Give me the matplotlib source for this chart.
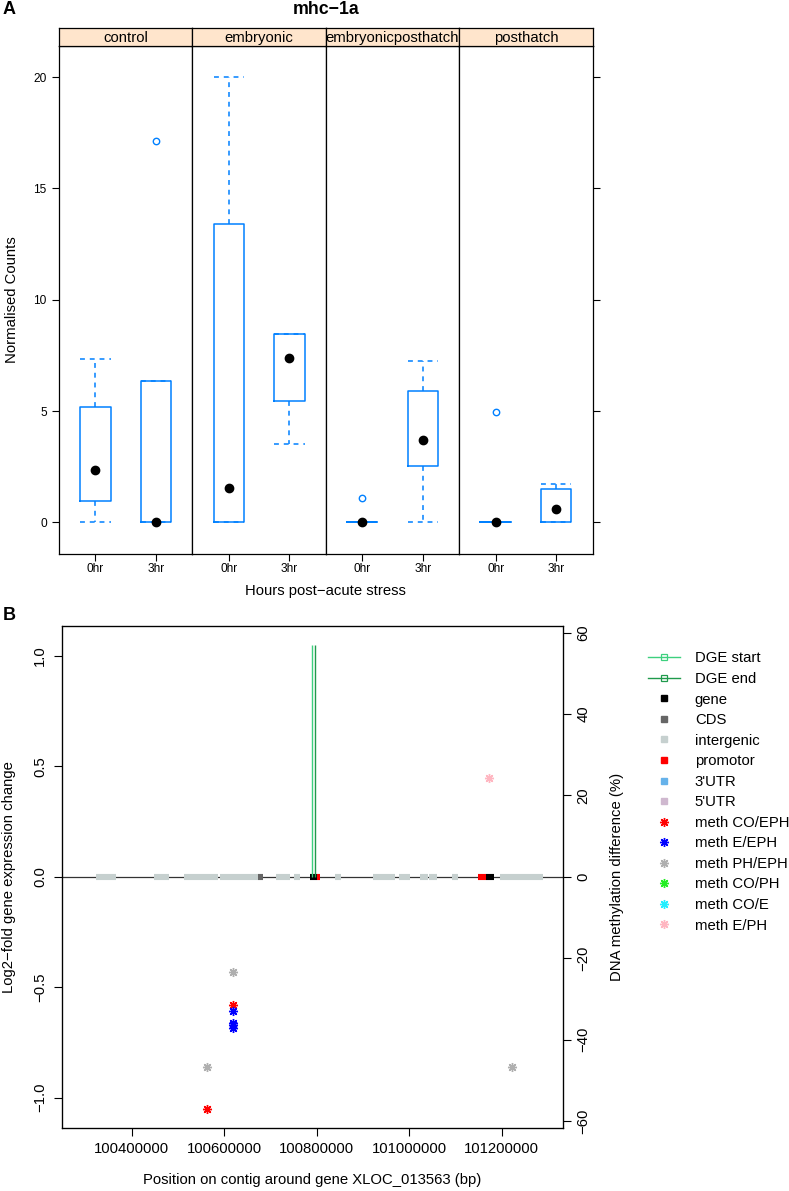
import matplotlib
matplotlib.use('Agg')
import matplotlib.pyplot as plt
from matplotlib.lines import Line2D

plt.rcParams['font.family'] = ['Liberation Sans', 'DejaVu Sans']
plt.rcParams['axes.unicode_minus'] = True

# ---------------- Panel A data ----------------
groups = ['control', 'embryonic', 'embryonicposthatch', 'posthatch']
hours = ['0hr', '3hr']
q1 = [[0.94, 0.0], [0.0, 5.45], [0.0, 2.53], [0.0, 0.0]]
med = [[2.35, 0.0], [1.56, 7.37], [0.0, 3.70], [0.0, 0.61]]
q3 = [[5.17, 6.34], [13.4, 8.46], [0.0, 5.92], [0.0, 1.48]]
whis_lo = [[0.0, 0.0], [0.0, 3.50], [0.0, 0.0], [0.0, 0.0]]
whis_hi = [[7.33, 6.34], [20.0, 8.46], [0.0, 7.26], [0.0, 1.72]]
outliers = [[[], [17.15]], [[], []], [[1.1], []], [[4.97], []]]
a_yticks = [0, 5, 10, 15, 20]

# ---------------- Panel B data ----------------
seg_start = [100323000, 100448700, 100512800, 100541500, 100590400, 100673000,
             100711200, 100750000, 100784500, 100801700, 100840500, 100921000,
             100957000, 100977000, 101023800, 101043200, 101092200, 101149500,
             101166100, 101197400]
seg_end = [100365500, 100480400, 100540200, 100586100, 100673000, 100683800,
           100741400, 100764400, 100801700, 100808200, 100853500, 100955500,
           100969900, 101002300, 101041100, 101059800, 101104700, 101166100,
           101183400, 101289700]
seg_type = ['intergenic', 'intergenic', 'intergenic', 'intergenic', 'intergenic', 'CDS',
            'intergenic', 'intergenic', 'gene', 'promotor', 'intergenic', 'intergenic',
            'intergenic', 'intergenic', 'intergenic', 'intergenic', 'intergenic', 'promotor',
            'gene', 'intergenic']

dge_labels = ['DGE start', 'DGE end']
dge_pos = [100788800, 100795300]
dge_lfc = [1.05, 1.05]

meth_labels = ['meth CO/EPH', 'meth E/EPH', 'meth PH/EPH', 'meth CO/PH', 'meth CO/E', 'meth E/PH']
co_eph_pos = [100619100, 100563000]
co_eph_diff = [-31.5, -57.1]
e_eph_pos = [100619100, 100619100, 100619100, 100619100]
e_eph_diff = [-33.0, -35.9, -36.4, -37.0]
ph_eph_pos = [100619100, 100563000, 101221550]
ph_eph_diff = [-23.3, -46.7, -46.7]
co_ph_pos, co_ph_diff = [], []
co_e_pos, co_e_diff = [], []
e_ph_pos = [101172600]
e_ph_diff = [24.2]

b_xticks = [100400000, 100600000, 100800000, 101000000, 101200000]
b_yticks = [-1.0, -0.5, 0.0, 0.5, 1.0]
b_rticks = [-60, -40, -20, 0, 20, 40, 60]

region_types = ['gene', 'CDS', 'intergenic', 'promotor', "3'UTR", "5'UTR"]
region_colors = ['#000000', '#666666', '#C6D0CF', '#FF0000', '#66B2EA', '#CFB8CF']
meth_colors = ['#FF0000', '#0000FF', '#AFAFAF', '#22EE22', '#22EEFF', '#FFB6C1']
dge_colors = ['#3DD07E', '#1F9A4C']

# ---------------- layout helpers ----------------
W, H = 789, 1191
fig = plt.figure(figsize=(W / 100, H / 100), dpi=100)


def rect(l, t, r, b):
    return [l / W, 1 - b / H, (r - l) / W, (b - t) / H]


BLUE = '#0080FF'
FS_A = 8.6
FS = 10.7

# ---------------- Panel A ----------------
edges = [59, 192.4, 325.8, 459.2, 592.7]
for i, g in enumerate(groups):
    ax = fig.add_axes(rect(edges[i], 46, edges[i + 1], 553.5))
    stats = []
    for j in range(2):
        stats.append(dict(med=med[i][j], q1=q1[i][j], q3=q3[i][j],
                          whislo=whis_lo[i][j], whishi=whis_hi[i][j],
                          fliers=outliers[i][j]))
    dash = (0, (3.2, 3.2))
    ax.bxp(stats, positions=[1, 2], widths=0.5, capwidths=0.5,
           boxprops=dict(color=BLUE, lw=1.1),
           whiskerprops=dict(color=BLUE, lw=1.1, linestyle=dash),
           capprops=dict(color=BLUE, lw=1.1, linestyle=dash),
           medianprops=dict(lw=0),
           flierprops=dict(marker='o', mfc='none', mec=BLUE, ms=4.6, mew=1.0))
    ax.plot([1, 2], med[i], 'o', color='black', ms=6, zorder=5)
    ax.set_xlim(0.4, 2.6)
    ax.set_ylim(-1.4, 21.4)
    ax.set_xticks([1, 2])
    ax.set_xticklabels(hours, fontsize=FS_A)
    ax.tick_params(axis='x', length=5, width=0.8, pad=1.5, direction='out')
    ax.set_yticks(a_yticks)
    if i == 0:
        ax.tick_params(axis='y', left=True, right=False, labelleft=True,
                       length=5.3, width=0.8, pad=3.5, labelsize=FS_A)
    elif i == 3:
        ax.tick_params(axis='y', left=False, right=True, labelleft=False,
                       labelright=False, length=5.3, width=0.8)
    else:
        ax.tick_params(axis='y', left=False, right=False, labelleft=False)
    for s in ax.spines.values():
        s.set_linewidth(0.9)
    # strip
    sax = fig.add_axes(rect(edges[i], 28, edges[i + 1], 46))
    sax.set_facecolor('#FFE5CC')
    sax.set_xticks([])
    sax.set_yticks([])
    for s in sax.spines.values():
        s.set_linewidth(0.9)
    sax.text(0.5, 0.45, g, ha='center', va='center', fontsize=FS,
             transform=sax.transAxes, clip_on=False)

fig.text(325.8 / W, 1 - 10 / H, 'mhc\u22121a', ha='center', va='center',
         fontsize=12.8, fontweight='bold')
fig.text(3 / W, 1 - 10 / H, 'A', ha='left', va='center', fontsize=13, fontweight='bold')
fig.text(12 / W, 1 - 300 / H, 'Normalised Counts', ha='center', va='center',
         rotation=90, fontsize=FS)
fig.text(325.8 / W, 1 - 591 / H, 'Hours post\u2212acute stress', ha='center',
         va='center', fontsize=FS)

# ---------------- Panel B ----------------
axb = fig.add_axes(rect(61.7, 626, 563.3, 1127.7))
axb.set_xlim(100248650, 101333190)
axb.set_ylim(-1.136, 1.136)
axb.axhline(0, color='#333333', lw=0.9, zorder=1)
col_of = dict(zip(region_types, region_colors))
axb.hlines([0] * len(seg_start), seg_start, seg_end,
           colors=[col_of[t] for t in seg_type], lw=4.4, capstyle='butt', zorder=2)
axb.vlines(dge_pos, 0, dge_lfc, colors=dge_colors, lw=1.0, zorder=3)
axb.set_xticks(b_xticks)
axb.set_xticklabels([str(v) for v in b_xticks], fontsize=FS)
axb.set_yticks(b_yticks)
axb.set_yticklabels(['\u22121.0', '\u22120.5', '0.0', '0.5', '1.0'], fontsize=FS,
                    rotation=90, va='center')
axb.tick_params(axis='both', length=6, width=0.8, direction='out')
axb.tick_params(axis='x', pad=4.5)
axb.tick_params(axis='y', pad=4.5)
for s in axb.spines.values():
    s.set_linewidth(0.9)

axr = axb.twinx()
axr.set_ylim(-61.6, 61.6)
axr.set_yticks(b_rticks)
axr.set_yticklabels(['\u221260', '\u221240', '\u221220', '0', '20', '40', '60'],
                    fontsize=FS, rotation=90, va='center')
axr.tick_params(axis='y', length=6, width=0.8, pad=3.5)
meth_pos = [co_eph_pos, e_eph_pos, ph_eph_pos, co_ph_pos, co_e_pos, e_ph_pos]
meth_diff = [co_eph_diff, e_eph_diff, ph_eph_diff, co_ph_diff, co_e_diff, e_ph_diff]
for pos, diff, c in zip(meth_pos, meth_diff, meth_colors):
    if pos:
        axr.plot(pos, diff, ls='none', marker=(8, 2, 0), ms=6.5, mew=1.0, color=c)

fig.text(3 / W, 1 - 615 / H, 'B', ha='left', va='center', fontsize=13, fontweight='bold')
fig.text(9 / W, 1 - 877 / H, 'Log2\u2212fold gene expression change', rotation=90,
         ha='center', va='center', fontsize=FS)
fig.text(617 / W, 1 - 877 / H, 'DNA methylation difference (%)', rotation=90,
         ha='center', va='center', fontsize=FS)
fig.text(312.5 / W, 1 - 1180 / H, 'Position on contig around gene XLOC_013563 (bp)',
         ha='center', va='center', fontsize=FS)

# legend
handles = []
for lab, c in zip(dge_labels, dge_colors):
    handles.append(Line2D([], [], color=c, lw=1.0, marker='s', mfc='none', mec=c,
                          ms=4.5, mew=0.9, label=lab))
for lab, c in zip(region_types, region_colors):
    handles.append(Line2D([], [], ls='none', marker='s', color=c, ms=4.3, label=lab))
for lab, c in zip(meth_labels, meth_colors):
    handles.append(Line2D([], [], ls='none', marker=(8, 2, 0), ms=6.5, mew=1.0,
                          color=c, label=lab))
fig.legend(handles=handles, loc='upper left', bbox_to_anchor=(648 / W, 1 - 651.5 / H),
           frameon=False, fontsize=FS, borderpad=0, borderaxespad=0,
           handlelength=2.15, handletextpad=1.0, labelspacing=0.44, numpoints=1)

fig.savefig('out.png', dpi=100)
